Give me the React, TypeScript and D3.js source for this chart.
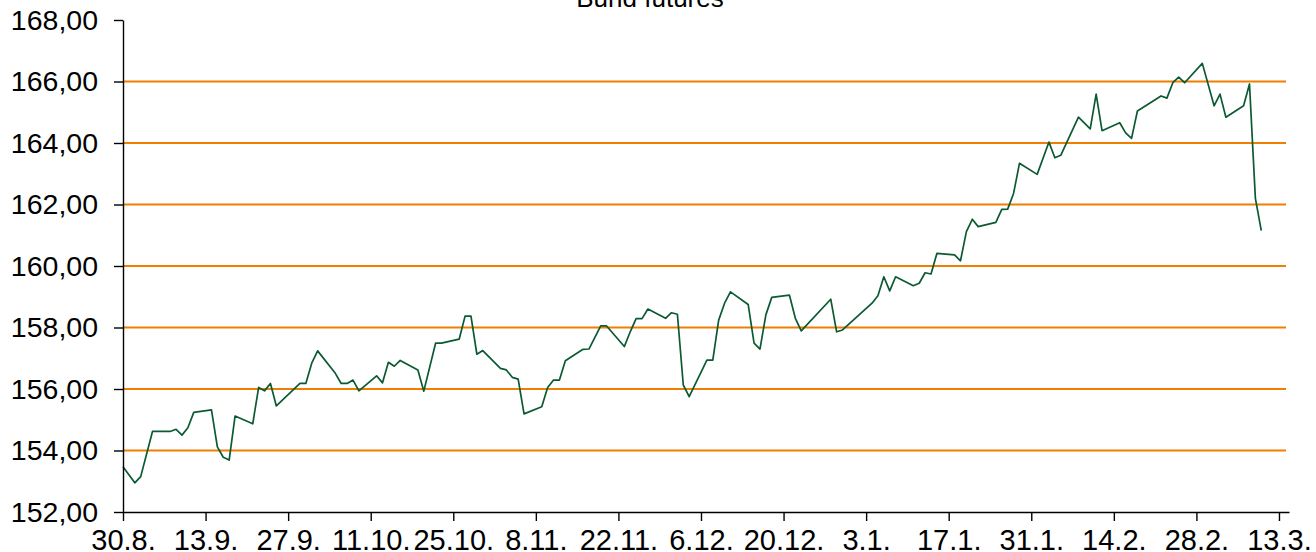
import { useEffect, useRef } from 'react'
import * as d3 from 'd3'

// Bund futures, daily closes (day offset from 30.8.)
const dayOffsets = [
  0, 2, 3, 5, 8, 9, 10, 11, 12, 15, 16, 17, 18, 19, 22, 23, 24, 25, 26, 30,
  31, 32, 33, 36, 37, 38, 39, 40, 43, 44, 45, 46, 47, 50, 51, 53, 54, 57, 58, 59,
  60, 61, 64, 65, 66, 67, 68, 71, 72, 73, 74, 75, 78, 79, 81, 82, 85, 86, 87, 88,
  89, 92, 93, 94, 95, 96, 99, 100, 101, 102, 103, 106, 107, 108, 109, 110, 113, 114, 115, 120,
  121, 122, 127, 128, 129, 130, 131, 134, 135, 136, 137, 138, 141, 142, 143, 144, 145, 148, 149, 150,
  151, 152, 155, 157, 158, 159, 162, 164, 165, 166, 169, 170, 171, 172, 176, 177, 178, 179, 180, 183,
  185, 186, 187, 190, 191, 192, 193
]
const prices = [
  153.47, 152.95, 153.15, 154.62, 154.62, 154.69, 154.5, 154.74, 155.24, 155.32, 154.12, 153.78, 153.69, 155.12, 154.87, 156.05, 155.94, 156.18, 155.45, 156.18,
  156.18, 156.84, 157.24, 156.51, 156.18, 156.18, 156.29, 155.94, 156.43, 156.2, 156.87, 156.74, 156.93, 156.62, 155.93, 157.49, 157.49, 157.62, 158.37, 158.37,
  157.13, 157.25, 156.67, 156.62, 156.38, 156.32, 155.19, 155.42, 156.05, 156.29, 156.29, 156.92, 157.29, 157.3, 158.05, 158.05, 157.38, 157.86, 158.29, 158.29,
  158.6, 158.3, 158.48, 158.43, 156.13, 155.75, 156.94, 156.94, 158.24, 158.79, 159.16, 158.75, 157.49, 157.3, 158.41, 158.98, 159.05, 158.3, 157.89, 158.92,
  157.86, 157.92, 158.79, 159.03, 159.65, 159.19, 159.65, 159.36, 159.44, 159.78, 159.74, 160.41, 160.36, 160.17, 161.12, 161.52, 161.28, 161.42, 161.84, 161.85,
  162.36, 163.34, 162.98, 164.03, 163.52, 163.6, 164.84, 164.46, 165.59, 164.4, 164.66, 164.33, 164.15, 165.04, 165.53, 165.46, 165.96, 166.14, 165.96, 166.59,
  165.21, 165.59, 164.84, 165.21, 165.92, 162.2, 161.15
]

const tickLabels = [
  '30.8.', '13.9.', '27.9.', '11.10.', '25.10.', '8.11.', '22.11.', '6.12.',
  '20.12.', '3.1.', '17.1.', '31.1.', '14.2.', '28.2.', '13.3.'
]
const tickStepDays = 14
const xMaxDays = 197.7

const yTicks = [152, 154, 156, 158, 160, 162, 164, 166, 168]
const gridValues = [154, 156, 158, 160, 162, 164, 166]

const font = '"Liberation Sans", Arial, sans-serif'

export default function App() {
  const svgRef = useRef<SVGSVGElement>(null)

  useEffect(() => {
    if (!svgRef.current) return
    const svg = d3.select(svgRef.current)
    svg.selectAll('*').remove()

    const left = 123
    const right = 1289
    const top = 20
    const bottom = 512

    const x = d3.scaleLinear().domain([0, xMaxDays]).range([left, right])
    const y = d3.scaleLinear().domain([152, 168]).range([bottom, top])

    // title (partly outside the top edge, as in the original)
    svg
      .append('text')
      .attr('x', 650)
      .attr('y', 7)
      .attr('text-anchor', 'middle')
      .style('font-family', font)
      .style('font-size', '26px')
      .text('Bund futures')

    // orange gridlines
    svg
      .append('g')
      .selectAll('line')
      .data(gridValues)
      .join('line')
      .attr('x1', left)
      .attr('x2', 1286)
      .attr('y1', d => y(d))
      .attr('y2', d => y(d))
      .attr('stroke', '#f07f00')
      .attr('stroke-width', 1.8)

    // price line
    const data = dayOffsets.map((d, i) => ({ day: d, value: prices[i] }))
    const line = d3
      .line<{ day: number; value: number }>()
      .x(d => x(d.day))
      .y(d => y(d.value))

    svg
      .append('path')
      .datum(data)
      .attr('fill', 'none')
      .attr('stroke', '#0b5a32')
      .attr('stroke-width', 1.7)
      .attr('stroke-linejoin', 'round')
      .attr('d', line)

    // y axis
    const yAxis = svg
      .append('g')
      .attr('transform', `translate(${left},0)`)
      .call(
        d3
          .axisLeft(y)
          .tickValues(yTicks)
          .tickSize(9)
          .tickSizeOuter(0)
          .tickPadding(16)
          .tickFormat(d => (d as number).toFixed(2).replace('.', ','))
      )

    // x axis
    const xAxis = svg
      .append('g')
      .attr('transform', `translate(0,${bottom})`)
      .call(
        d3
          .axisBottom(x)
          .tickValues(tickLabels.map((_, i) => i * tickStepDays))
          .tickSize(9)
          .tickSizeOuter(0)
          .tickPadding(8)
          .tickFormat((_, i) => tickLabels[i])
      )

    for (const g of [yAxis, xAxis]) {
      g.selectAll('.domain').attr('stroke', '#000').attr('stroke-width', 1.4)
      g.selectAll('.tick line').attr('stroke', '#000').attr('stroke-width', 1.4)
      g.selectAll('text').attr('fill', '#000').style('font-family', font)
    }
    yAxis.selectAll('text').style('font-size', '28.5px')
    xAxis.selectAll('text').style('font-size', '29px')
  }, [])

  return (
    <svg
      ref={svgRef}
      width={1316}
      height={552}
      style={{ position: 'absolute', left: 0, top: 0, background: '#fff' }}
    />
  )
}
